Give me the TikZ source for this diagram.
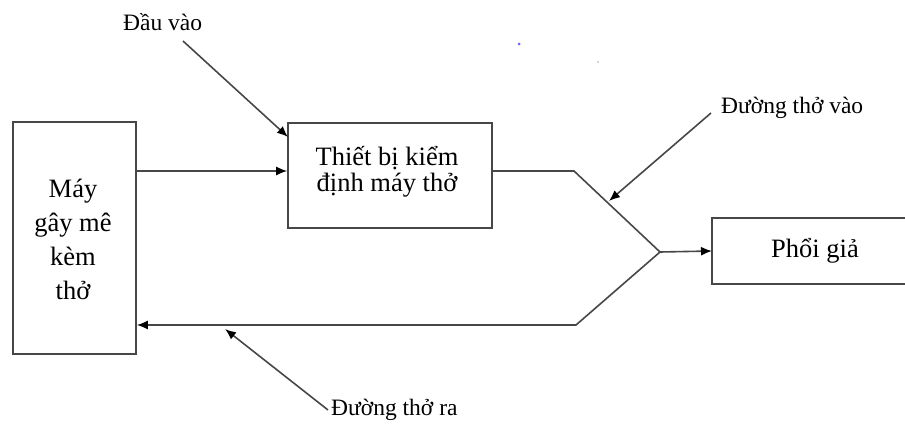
\documentclass[tikz,border=0pt]{standalone}
\usepackage{fontspec}
\setmainfont{Liberation Serif}
\usetikzlibrary{arrows.meta}
\begin{document}
\begin{tikzpicture}[x=1pt,y=-1pt,
  wire/.style={line width=1.6pt, draw=black!72},
  arr/.style={wire, -{Latex[length=11pt,width=9pt,color=black]}},
  boxtext/.style={font=\fontsize{26.5}{34}\selectfont, align=center, inner sep=0pt},
  boxtexttight/.style={font=\fontsize{26.5}{26}\selectfont, align=center, inner sep=0pt},
  lbl/.style={font=\fontsize{23.5}{26}\selectfont, inner sep=0pt, anchor=west},
  blk/.style={draw=black!72, line width=1.6pt, inner sep=0pt}]
\useasboundingbox (0,0) rectangle (905,430);
\fill[white] (0,0) rectangle (905,430);
% boxes
\node[blk, minimum width=123pt, minimum height=232pt] (ane) at (74.5,238) {};
\node[boxtext] at (73,239) {Máy\\gây mê\\kèm\\thở};
\node[blk, minimum width=204pt, minimum height=105pt] (tester) at (390,175.5) {};
\node[boxtexttight] at (387,172) {Thiết bị kiểm\\định máy thở};
\coordinate (lungW) at (712,251);
\node[boxtext] (lung) at (815,251) {Phổi giả};
\draw[wire] (910,218) -- (712,218) -- (712,284) -- (910,284);
% labels
\node[lbl] (lin) at (123,22) {Đầu vào};
\node[lbl] (lvao) at (721,108) {Đường thở vào};
\node[lbl] (lra) at (331,410) {Đường thở ra};
% coordinates
\coordinate (a1) at (183,41);
\coordinate (a2) at (288,137);
\coordinate (m1) at (574,171);
\coordinate (y) at (660,252);
\coordinate (r1) at (576,325);
\coordinate (v1) at (711,113);
\coordinate (v2) at (609,201);
\coordinate (o1) at (328,410);
\coordinate (o2) at (225,329);
% connectors
\draw[arr] (a1) -- (a2);
\draw[arr] (ane.east |- 0,171) -- (tester.west |- 0,171);
\draw[wire] (tester.east |- 0,171) -- (m1) -- (y);
\draw[arr] (y) -- (lungW);
\draw[arr] (y) -- (r1) -- (ane.east |- 0,325);
\draw[arr] (v1) -- (v2);
\draw[arr] (o1) -- (o2);
% small specks
\fill[blue!60] (519,44) circle (1.5pt);
\fill[black!35] (598,62) circle (0.8pt);
\end{tikzpicture}
\end{document}
